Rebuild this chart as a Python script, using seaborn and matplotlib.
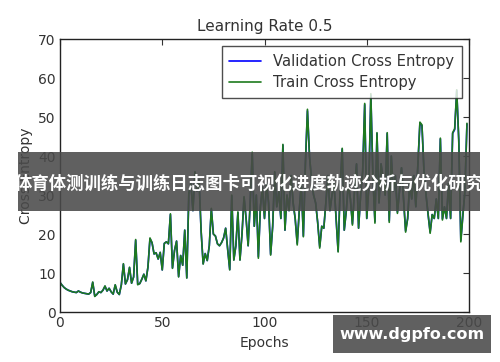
import matplotlib
matplotlib.use("Agg")
import matplotlib.pyplot as plt
from matplotlib.patches import Rectangle
import numpy as np
import pandas as pd
import seaborn as sns

# cross entropy per epoch
train_ce = [
    7.6, 6.9, 6.3, 5.9, 5.6, 5.4, 5.2, 5.1, 5.0, 5.4,
    5.1, 4.9, 4.8, 4.7, 4.6, 5.0, 7.7, 4.0, 4.5, 5.2,
    5.0, 5.6, 6.7, 5.4, 6.1, 5.2, 4.6, 7.0, 5.1, 4.5,
    7.0, 12.4, 7.2, 8.3, 11.5, 7.4, 9.0, 18.6, 7.0, 7.3,
    8.4, 9.7, 8.0, 11.5, 19.0, 17.8, 14.9, 15.2, 13.6, 15.3,
    10.8, 17.6, 18.0, 17.5, 25.2, 11.2, 15.8, 18.2, 9.0, 14.5,
    12.0, 21.0, 8.7, 30.5, 33.0, 26.0, 36.0, 31.0, 34.0, 20.8,
    12.3, 15.0, 13.2, 17.0, 26.6, 20.0, 19.5, 17.5, 17.0, 17.8,
    19.0, 21.5, 16.0, 10.8, 30.0, 13.3, 17.0, 25.7, 13.3, 20.0,
    29.6, 24.0, 17.0, 28.0, 41.0, 22.0, 30.0, 13.8, 27.0, 32.0,
    24.0, 33.0, 28.0, 14.6, 22.0, 36.0, 27.0, 31.0, 24.0, 43.0,
    21.0, 30.0, 26.0, 35.0, 28.0, 24.0, 17.2, 26.0, 33.0, 19.3,
    38.0, 52.0, 40.0, 34.0, 30.0, 28.0, 23.0, 16.4, 22.0, 21.5,
    28.0, 35.0, 26.0, 30.0, 33.0, 24.0, 15.4, 32.0, 42.0, 21.0,
    26.0, 33.0, 29.0, 22.3, 31.0, 38.0, 21.5, 30.0, 36.0, 53.5,
    24.0, 32.0, 56.0, 35.0, 22.8, 46.0, 28.0, 38.0, 34.0, 30.0,
    46.0, 23.0, 40.0, 31.0, 35.0, 25.3, 31.0, 37.0, 29.0, 20.5,
    24.0, 33.0, 29.0, 35.0, 27.0, 38.0, 48.7, 48.0, 36.0, 30.0,
    25.0, 20.2, 25.0, 24.0, 29.0, 24.0, 44.6, 23.6, 27.0, 24.0,
    33.0, 24.0, 46.0, 47.0, 57.0, 44.0, 18.0, 24.7, 31.0, 48.4,
]
valid_ce = [
    7.6, 6.9, 6.3, 5.9, 5.6, 5.4, 5.2, 5.1, 5.0, 5.4,
    5.1, 4.9, 4.8, 4.7, 4.6, 5.0, 7.6, 4.1, 4.5, 5.2,
    5.0, 5.6, 6.6, 5.4, 6.1, 5.2, 4.6, 6.9, 5.1, 4.5,
    7.0, 12.3, 7.2, 8.3, 11.4, 7.4, 9.0, 18.4, 7.1, 7.3,
    8.4, 9.7, 8.0, 11.5, 18.8, 17.8, 14.9, 15.2, 13.6, 15.3,
    10.8, 17.6, 18.0, 17.5, 25.0, 11.3, 15.8, 18.2, 9.1, 14.5,
    12.0, 21.0, 8.8, 30.3, 33.0, 26.0, 35.8, 31.0, 34.0, 20.8,
    12.4, 15.0, 13.2, 17.0, 26.4, 20.0, 19.5, 17.5, 17.0, 17.8,
    19.0, 21.5, 16.0, 10.9, 29.8, 13.4, 17.0, 25.5, 13.4, 20.0,
    29.4, 24.0, 17.0, 28.0, 40.6, 22.0, 30.0, 14.2, 27.0, 32.0,
    24.0, 33.0, 28.0, 14.8, 22.0, 35.8, 27.0, 31.0, 24.0, 42.8,
    21.0, 30.0, 26.0, 35.0, 28.0, 24.0, 17.6, 26.0, 33.0, 19.5,
    38.0, 51.6, 40.0, 34.0, 30.0, 28.0, 23.0, 16.8, 22.0, 21.5,
    28.0, 35.0, 26.0, 30.0, 33.0, 24.0, 15.6, 32.0, 41.8, 21.0,
    26.0, 33.0, 29.0, 22.6, 31.0, 38.0, 21.5, 30.0, 36.0, 53.2,
    24.0, 32.0, 55.6, 35.0, 23.2, 45.8, 28.0, 38.0, 34.0, 30.0,
    45.8, 23.4, 40.0, 31.0, 35.0, 25.6, 31.0, 37.0, 29.0, 20.8,
    24.0, 33.0, 29.0, 35.0, 27.0, 38.0, 48.5, 47.8, 36.0, 30.0,
    25.0, 20.5, 25.0, 24.0, 29.0, 24.0, 44.4, 23.9, 27.0, 24.0,
    33.0, 24.0, 45.8, 46.8, 56.8, 44.0, 18.4, 24.9, 31.0, 48.2,
]
epochs = list(range(len(train_ce)))

banner_text = "体育体测训练与训练日志图卡可视化进度轨迹分析与优化研究"
watermark_text = "www.dgpfo.com"

sns.set_theme(style="white")
plt.rcParams["font.family"] = ["DejaVu Sans"]

df = pd.DataFrame({"epoch": epochs, "valid": valid_ce, "train": train_ce})

fig = plt.figure(figsize=(5.0, 3.62), dpi=100)
ax = fig.add_axes([0.12, 0.138, 0.818, 0.754])

sns.lineplot(data=df, x="epoch", y="valid", color="#0000ff", lw=1.2,
             label="Validation Cross Entropy", ax=ax)
sns.lineplot(data=df, x="epoch", y="train", color="#1e7a1e", lw=1.2,
             label="Train Cross Entropy", ax=ax)

ax.set_xlim(0, 200)
ax.set_ylim(0, 70)
ax.set_xticks(np.arange(0, 201, 50))
ax.set_yticks(np.arange(0, 71, 10))
ax.tick_params(direction="in", length=4, width=0.8, top=True, right=True,
               labelsize=10, colors="#333333", pad=3)
for s in ax.spines.values():
    s.set_color("#222222")
    s.set_linewidth(1.0)
ax.set_title("Learning Rate 0.5", fontsize=11, color="#333333", pad=6)
ax.set_xlabel("Epochs", fontsize=10, color="#333333")
ax.set_ylabel("Cross Entropy", fontsize=10, color="#333333")

leg = ax.legend(loc="upper right", fontsize=10.6, frameon=True, fancybox=False,
                handlelength=2.2, borderpad=0.5, labelspacing=0.45)
leg.get_frame().set_edgecolor("#222222")
leg.get_frame().set_linewidth(1.0)
for t in leg.get_texts():
    t.set_color("#333333")

# dark banner across the middle
fig.add_artist(Rectangle((18 / 500, 1 - 211 / 362), 462 / 500, 59 / 362,
                         transform=fig.transFigure, facecolor="#4a4a4a",
                         alpha=0.88, edgecolor="none", zorder=10))
fig.text(249 / 500, 1 - 184 / 362, banner_text, ha="center", va="center",
         color="white", fontsize=12.5, fontweight="bold",
         family=["Noto Sans CJK SC", "DejaVu Sans"], zorder=11)

# watermark box, bottom right
fig.add_artist(Rectangle((333 / 500, 1 - 353 / 362), 158 / 500, 38 / 362,
                         transform=fig.transFigure, facecolor="#4a4a4a",
                         alpha=0.88, edgecolor="none", zorder=10))
fig.text(412 / 500, 1 - 335 / 362, watermark_text, ha="center", va="center",
         color="white", fontsize=11.5, fontweight="bold",
         family=["DejaVu Sans"], zorder=11)

fig.savefig("out.png", dpi=100)
